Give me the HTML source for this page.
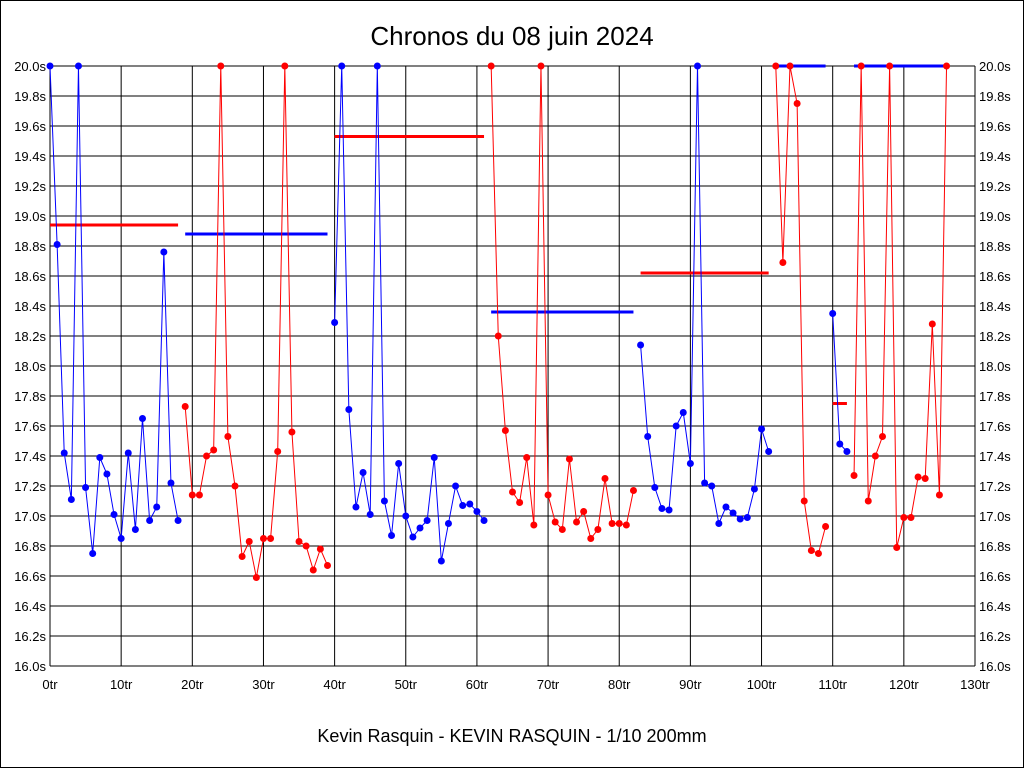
<!DOCTYPE html>
<html><head><meta charset="utf-8"><style>
body{margin:0;background:#fff;width:1024px;height:768px;overflow:hidden;font-family:"Liberation Sans",sans-serif}
#frame{position:absolute;left:0;top:0;width:1022px;height:766px;border:1px solid #000}
</style></head><body>
<div id="frame"></div>
<svg id="chart" width="1024" height="768" style="position:absolute;left:0;top:0">
<text x="512" y="45" text-anchor="middle" font-size="26" font-family="Liberation Sans, sans-serif">Chronos du 08 juin 2024</text>
<text x="512" y="742" text-anchor="middle" font-size="18" font-family="Liberation Sans, sans-serif">Kevin Rasquin - KEVIN RASQUIN - 1/10 200mm</text>
</svg>
<script>
const segColors = ["blue","red","blue","red","blue","red","blue","red"];
const segStarts = [0,19,40,62,83,102,110,113];
const lapTimes = [20.0,18.81,17.42,17.11,20.0,17.19,16.75,17.39,17.28,17.01,16.85,17.42,16.91,17.65,16.97,17.06,18.76,17.22,16.97,
17.73,17.14,17.14,17.40,17.44,20.0,17.53,17.20,16.73,16.83,16.59,16.85,16.85,17.43,20.0,17.56,16.83,16.80,16.64,16.78,16.67,
18.29,20.0,17.71,17.06,17.29,17.01,20.0,17.10,16.87,17.35,17.00,16.86,16.92,16.97,17.39,16.70,16.95,17.20,17.07,17.08,17.03,16.97,
20.0,18.20,17.57,17.16,17.09,17.39,16.94,20.0,17.14,16.96,16.91,17.38,16.96,17.03,16.85,16.91,17.25,16.95,16.95,16.94,17.17,
18.14,17.53,17.19,17.05,17.04,17.60,17.69,17.35,20.0,17.22,17.20,16.95,17.06,17.02,16.98,16.99,17.18,17.58,17.43,
20.0,18.69,20.0,19.75,17.10,16.77,16.75,16.93,
18.35,17.48,17.43,
17.27,20.0,17.10,17.40,17.53,20.0,16.79,16.99,16.99,17.26,17.25,18.28,17.14,20.0];
const avgValues = [18.94,18.88,19.53,18.36,18.62,20.0,17.75,20.0];
const avgFrom = [0,19,40,62,83,102,110,113];
const avgTo = [18,39,61,82,101,109,112,126];
const yTicks = ["16.0s","16.2s","16.4s","16.6s","16.8s","17.0s","17.2s","17.4s","17.6s","17.8s","18.0s","18.2s","18.4s","18.6s","18.8s","19.0s","19.2s","19.4s","19.6s","19.8s","20.0s"];
const xTicks = ["0tr","10tr","20tr","30tr","40tr","50tr","60tr","70tr","80tr","90tr","100tr","110tr","120tr","130tr"];

const L=50,R=975,T=66,B=666;
const xs=v=>L+(R-L)*v/130;
const ys=v=>B-(B-T)*(v-16)/4;
const svg=document.getElementById('chart');
const NS="http://www.w3.org/2000/svg";
function mk(tag,attrs){const e=document.createElementNS(NS,tag);for(const k in attrs)e.setAttribute(k,attrs[k]);svg.appendChild(e);return e;}

yTicks.forEach((t,i)=>{
  const v=16+i*0.2,y=ys(v);
  const g=mk('line',{x1:L,x2:R,y1:y,y2:y,stroke:'#000','stroke-width':1});
  
  
  const a=mk('text',{x:L-4,y:y+5,'text-anchor':'end','font-size':13,'font-family':'Liberation Sans, sans-serif'});
  a.textContent=t;
  
  
  const b=mk('text',{x:R+4,y:y+5,'text-anchor':'start','font-size':13,'font-family':'Liberation Sans, sans-serif'});
  b.textContent=t;
  
  
});
xTicks.forEach((t,i)=>{
  const x=xs(i*10);
  const g=mk('line',{x1:x,x2:x,y1:T,y2:B,stroke:'#000','stroke-width':1});
  
  
  const a=mk('text',{x:x,y:B+23,'text-anchor':'middle','font-size':13,'font-family':'Liberation Sans, sans-serif'});
  a.textContent=t;
  
  
});

avgValues.forEach((v,i)=>{
  const c=segColors[(i+1)%2===0?1:0]==='blue'?'red':'red';
  const col=i%2===0?'red':'blue';
  const l=mk('line',{x1:xs(avgFrom[i]),x2:xs(avgTo[i]),y1:ys(v),y2:ys(v),stroke:col,'stroke-width':3});
  
  
});

segStarts.forEach((s,i)=>{
  const e=i+1<segStarts.length?segStarts[i+1]:lapTimes.length;
  const col=segColors[i];
  let pts=[];
  for(let k=s;k<e;k++)pts.push(xs(k)+','+ys(lapTimes[k]));
  const p=mk('polyline',{points:pts.join(' '),fill:'none',stroke:col,'stroke-width':1});
  
  
  for(let k=s;k<e;k++){
    const c=mk('circle',{cx:xs(k),cy:ys(lapTimes[k]),r:3.5,fill:col});
    
    
  }
});
</script>
</body></html>
